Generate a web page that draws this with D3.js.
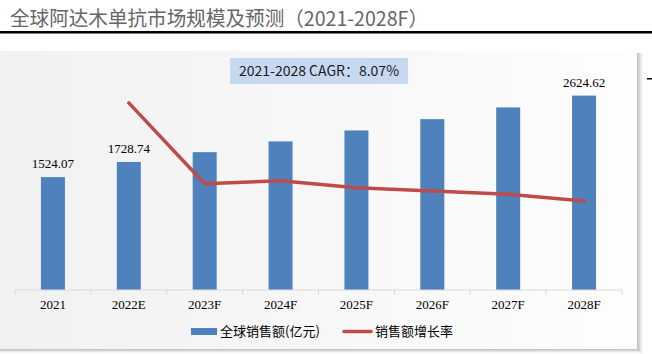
<!DOCTYPE html>
<html><head><meta charset="utf-8">
<script src="https://cdn.jsdelivr.net/npm/d3@7"></script>
<style>body{margin:0;background:#fff;}svg{display:block;}</style>
</head><body>
<svg id="c" width="652" height="354"></svg>
<script>
const categories = ["2021","2022E","2023F","2024F","2025F","2026F","2027F","2028F"];
const sales = [1524.07, 1728.74, 1861, 2006, 2154, 2307, 2465, 2624.62];
const growth = [null, 0.1343, 0.0763, 0.0785, 0.0734, 0.0710, 0.0687, 0.0639];
const labelIdx = [0, 1, 7];
const titleText = "全球阿达木单抗市场规模及预测（2021-2028F）";
const cagrText = "2021-2028 CAGR：8.07%";
const legendNames = ["全球销售额(亿元)", "销售额增长率"];

const svg = d3.select("#c");
const defs = svg.append("defs");
const g1 = defs.append("linearGradient").attr("id","bg").attr("x1","0").attr("x2","1").attr("y1","0").attr("y2","0");
g1.append("stop").attr("offset","0").attr("stop-color","#f1f1f1");
g1.append("stop").attr("offset","1").attr("stop-color","#fdfdfd");
const gs = defs.append("linearGradient").attr("id","shR").attr("x1","0").attr("x2","1");
gs.append("stop").attr("offset","0").attr("stop-color","#bdbdbd");
gs.append("stop").attr("offset","1").attr("stop-color","#ffffff");
const gb = defs.append("linearGradient").attr("id","shB").attr("x1","0").attr("x2","0").attr("y1","0").attr("y2","1");
gb.append("stop").attr("offset","0").attr("stop-color","#bdbdbd");
gb.append("stop").attr("offset","1").attr("stop-color","#ffffff");

// title
svg.append("text").attr("x",10).attr("y",26).attr("font-family","'Noto Sans CJK SC'").attr("font-size",20)
  .attr("fill","#666").attr("textLength",418).attr("lengthAdjust","spacingAndGlyphs").text(titleText);
svg.append("rect").attr("x",0).attr("y",31).attr("width",652).attr("height",2.5).attr("fill","#000");

// panel shadow + panel
svg.append("rect").attr("x",637).attr("y",53).attr("width",6).attr("height",300).attr("fill","url(#shR)");
svg.append("rect").attr("x",0).attr("y",349).attr("width",640).attr("height",4).attr("fill","url(#shB)");
svg.append("rect").attr("x",0).attr("y",51).attr("width",637).attr("height",298).attr("fill","url(#bg)");
svg.append("rect").attr("x",647).attr("y",78).attr("width",5).attr("height",1.5).attr("fill","#000");

const x = d3.scaleBand().domain(categories).range([15, 622]);
const y = d3.scaleLinear().domain([0, 3000]).range([290, 67.8]);
const y2 = d3.scaleLinear().domain([0, 0.16]).range([290, 67.1]);
const bw = 24;

// bars
svg.append("g").selectAll("rect").data(sales).join("rect")
  .attr("x",(d,i)=>x(categories[i]) + x.bandwidth()/2 - bw/2)
  .attr("y",d=>y(d)).attr("width",bw).attr("height",d=>y(0)-y(d)).attr("fill","#4f81bd");

// axis
const ax = svg.append("g").attr("transform","translate(0,290)");
ax.append("line").attr("x1",15).attr("x2",622).attr("stroke","#d9d9d9").attr("stroke-width",1.2);
const tickPos = categories.map(c=>x(c)).concat([622]);
ax.selectAll("line.t").data(tickPos).join("line").attr("class","t")
  .attr("x1",d=>d).attr("x2",d=>d).attr("y1",0).attr("y2",5).attr("stroke","#d9d9d9");
ax.selectAll("text").data(categories).join("text")
  .attr("x",d=>x(d)+x.bandwidth()/2).attr("y",19).attr("text-anchor","middle")
  .attr("font-family","'Liberation Serif'").attr("font-size",13).attr("fill","#000").text(d=>d);

// data labels
svg.append("g").selectAll("text").data(labelIdx).join("text")
  .attr("x",i=>x(categories[i])+x.bandwidth()/2).attr("y",i=>y(sales[i])-9).attr("text-anchor","middle")
  .attr("font-family","'Liberation Serif'").attr("font-size",13).attr("fill","#000")
  .text(i=>sales[i].toFixed(2));

// line
const line = d3.line().defined(d=>d!=null)
  .x((d,i)=>x(categories[i])+x.bandwidth()/2).y(d=>y2(d));
svg.append("path").attr("d",line(growth)).attr("fill","none").attr("stroke","#be4b48")
  .attr("stroke-width",3.5).attr("stroke-linejoin","round").attr("stroke-linecap","round");

// CAGR box
svg.append("rect").attr("x",230).attr("y",58).attr("width",178).attr("height",26).attr("fill","#c6d9f1");
svg.append("text").attr("x",319).attr("y",76).attr("text-anchor","middle")
  .attr("font-family","'Noto Sans CJK SC'").attr("font-size",14).attr("fill","#1a1a1a").text(cagrText);

// legend
const lg = svg.append("g");
lg.append("rect").attr("x",191).attr("y",328).attr("width",26).attr("height",7).attr("fill","#4f81bd");
lg.append("text").attr("x",220).attr("y",336).attr("font-family","'Noto Sans CJK SC'").attr("font-size",13)
  .attr("fill","#000").text(legendNames[0]);
lg.append("line").attr("x1",344).attr("x2",371).attr("y1",331.5).attr("y2",331.5)
  .attr("stroke","#be4b48").attr("stroke-width",3.5).attr("stroke-linecap","round");
lg.append("text").attr("x",375).attr("y",336).attr("font-family","'Noto Sans CJK SC'").attr("font-size",13)
  .attr("fill","#000").text(legendNames[1]);
</script>
</body></html>
